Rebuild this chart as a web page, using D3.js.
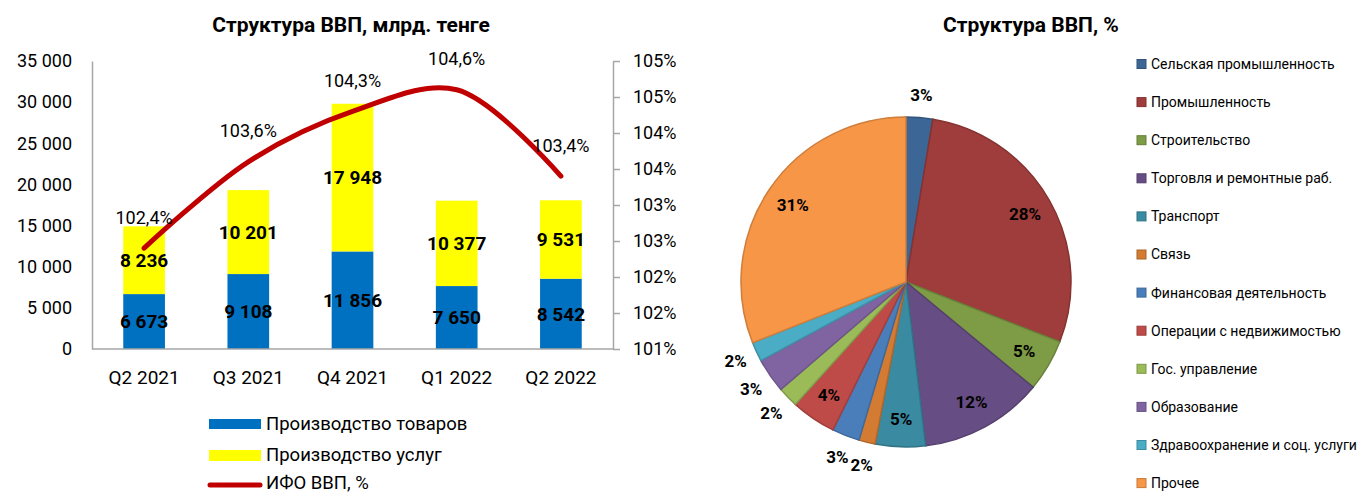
<!DOCTYPE html>
<html>
<head>
<meta charset="utf-8">
<script src="https://cdn.jsdelivr.net/npm/d3@7"></script>
<style>
  html, body { margin: 0; padding: 0; background: #fff; }
  svg { display: block; font-family: Roboto, "Noto Sans", sans-serif; }
</style>
</head>
<body>
<svg id="chart" width="1363" height="494"></svg>
<script>
// ---- Data ----
const quarters = ["Q2 2021", "Q3 2021", "Q4 2021", "Q1 2022", "Q2 2022"];
const goods = [6673, 9108, 11856, 7650, 8542];
const services = [8236, 10201, 17948, 10377, 9531];
const ifo = [102.4, 103.6, 104.3, 104.6, 103.4];
const leftTicks = [0, 5000, 10000, 15000, 20000, 25000, 30000, 35000];
const rightTicks = [101, 101.5, 102, 102.5, 103, 103.5, 104, 104.5, 105];
const seriesNames = ["Производство товаров", "Производство услуг", "ИФО ВВП, %"];

const sectors = ["Сельская промышленность", "Промышленность", "Строительство",
  "Торговля и ремонтные раб.", "Транспорт", "Связь", "Финансовая деятельность",
  "Операции с недвижимостью", "Гос. управление", "Образование",
  "Здравоохранение и соц. услуги", "Прочее"];
const shares = [2.6, 28.3, 5.1, 12.1, 4.9, 1.6, 2.7, 4.4, 2.0, 3.4, 1.9, 31.0];
const sectorColors = ["#3C6696", "#9E3D3B", "#7E9B45", "#664D83", "#3A8BA1", "#D37B32",
  "#4A7EBB", "#BF4B48", "#9BBB59", "#8064A2", "#4BACC6", "#F79646"];

const svg = d3.select("#chart");
const ru = d3.formatLocale({decimal: ",", thousands: " ", grouping: [3], currency: ["", ""]});
const fmtInt = ru.format(",d");
const fmtPct1 = ru.format(".1f");

// ---- Left chart ----
const L = {x0: 92, x1: 613, y0: 349, y1: 61};
const x = d3.scaleBand().domain(quarters).range([L.x0, L.x1]).paddingInner(0.6).paddingOuter(0.3);
const yL = d3.scaleLinear().domain([0, 35000]).range([L.y0, L.y1]);
const yR = d3.scaleLinear().domain([101, 105]).range([L.y0, L.y1]);

svg.append("text").attr("x", 351).attr("y", 32).attr("text-anchor", "middle")
  .attr("font-size", 21).attr("font-weight", "bold").attr("fill", "#000")
  .text("Структура ВВП, млрд. тенге");

// bars
const g = svg.append("g");
quarters.forEach((q, i) => {
  const bx = x(q), bw = x.bandwidth();
  g.append("rect").attr("x", bx).attr("width", bw)
    .attr("y", yL(goods[i])).attr("height", yL(0) - yL(goods[i])).attr("fill", "#0070C0");
  g.append("rect").attr("x", bx).attr("width", bw)
    .attr("y", yL(goods[i] + services[i])).attr("height", yL(0) - yL(services[i])).attr("fill", "#FFFF00");
});

// axes
const axL = svg.append("g").attr("transform", `translate(${L.x0},0)`)
  .call(d3.axisLeft(yL).tickValues(leftTicks).tickFormat(fmtInt).tickSize(0).tickPadding(20));
const axR = svg.append("g").attr("transform", `translate(${L.x1},0)`)
  .call(d3.axisRight(yR).tickValues(rightTicks).tickFormat(d => Math.round(d) + "%").tickSize(7).tickSizeOuter(0).tickPadding(13));
const axB = svg.append("g").attr("transform", `translate(0,${L.y0})`)
  .call(d3.axisBottom(x).tickSize(0).tickSizeOuter(0).tickPadding(22));
[axL, axR, axB].forEach(a => {
  a.selectAll("path, line").attr("stroke", "#A6A6A6").attr("stroke-width", 1.5);
  a.selectAll("text").attr("font-size", 18).attr("fill", "#000").attr("font-family", "Roboto, sans-serif");
});
axB.selectAll("text").attr("font-size", 19);
axB.select(".domain").attr("d", `M${L.x0},0H${L.x1}`);

// bar labels
quarters.forEach((q, i) => {
  const cx = x(q) + x.bandwidth() / 2;
  svg.append("text").attr("x", cx).attr("y", yL(goods[i] / 2)).attr("dy", "0.35em")
    .attr("text-anchor", "middle").attr("font-size", 19).attr("font-weight", "bold").text(fmtInt(goods[i]));
  svg.append("text").attr("x", cx).attr("y", yL(goods[i] + services[i] / 2)).attr("dy", "0.35em")
    .attr("text-anchor", "middle").attr("font-size", 19).attr("font-weight", "bold").text(fmtInt(services[i]));
});

// line
const line = d3.line().x((d, i) => x(quarters[i]) + x.bandwidth() / 2).y(d => yR(d)).curve(d3.curveCatmullRom.alpha(0.5));
svg.append("path").datum(ifo).attr("d", line).attr("fill", "none")
  .attr("stroke", "#C00000").attr("stroke-width", 5).attr("stroke-linecap", "round");
ifo.forEach((v, i) => {
  svg.append("text").attr("x", x(quarters[i]) + x.bandwidth() / 2).attr("y", yR(v) - 31).attr("dy", "0.35em")
    .attr("text-anchor", "middle").attr("font-size", 18).attr("fill", "#000").text(fmtPct1(v) + "%");
});

// legend left
const lg = svg.append("g");
lg.append("rect").attr("x", 209).attr("y", 419).attr("width", 52).attr("height", 10).attr("fill", "#0070C0");
lg.append("rect").attr("x", 209).attr("y", 450).attr("width", 52).attr("height", 11).attr("fill", "#FFFF00");
lg.append("line").attr("x1", 210).attr("x2", 260).attr("y1", 485).attr("y2", 485)
  .attr("stroke", "#C00000").attr("stroke-width", 5).attr("stroke-linecap", "round");
[424, 455, 483].forEach((yy, i) => {
  lg.append("text").attr("x", 266).attr("y", yy).attr("dy", "0.35em").attr("font-size", 18.5).attr("fill", "#000").text(seriesNames[i]);
});

// ---- Pie ----
const P = {cx: 906, cy: 282, r: 165};
svg.append("text").attr("x", 1031).attr("y", 32).attr("text-anchor", "middle")
  .attr("font-size", 21).attr("font-weight", "bold").attr("fill", "#000").text("Структура ВВП, %");

const pie = d3.pie().sort(null).value(d => d)(shares);
const arc = d3.arc().innerRadius(0).outerRadius(P.r);
const pg = svg.append("g").attr("transform", `translate(${P.cx},${P.cy})`);
pg.selectAll("path").data(pie).join("path")
  .attr("d", arc)
  .attr("fill", (d, i) => sectorColors[i])
  .attr("stroke", (d, i) => d3.color(sectorColors[i]).darker(0.5))
  .attr("stroke-width", 1.5);
pg.selectAll("text").data(pie).join("text")
  .attr("transform", d => {
    const a = (d.startAngle + d.endAngle) / 2;
    const rr = d.data < 4 ? 188 : 137;
    return `translate(${Math.sin(a) * rr},${-Math.cos(a) * rr})`;
  })
  .attr("dy", "0.35em").attr("text-anchor", "middle")
  .attr("font-size", 17).attr("font-weight", "bold").attr("fill", "#000")
  .text(d => Math.round(d.data) + "%");

// legend right
const rg = svg.append("g");
sectors.forEach((s, i) => {
  const yy = 64 + i * 38.1;
  rg.append("rect").attr("x", 1137).attr("y", yy - 4.5).attr("width", 9).attr("height", 9)
    .attr("fill", sectorColors[i]).attr("stroke", d3.color(sectorColors[i]).darker(0.6)).attr("stroke-width", 1);
  rg.append("text").attr("x", 1151).attr("y", yy).attr("dy", "0.35em").attr("font-size", 14).attr("fill", "#000").text(s);
});
</script>
</body>
</html>
